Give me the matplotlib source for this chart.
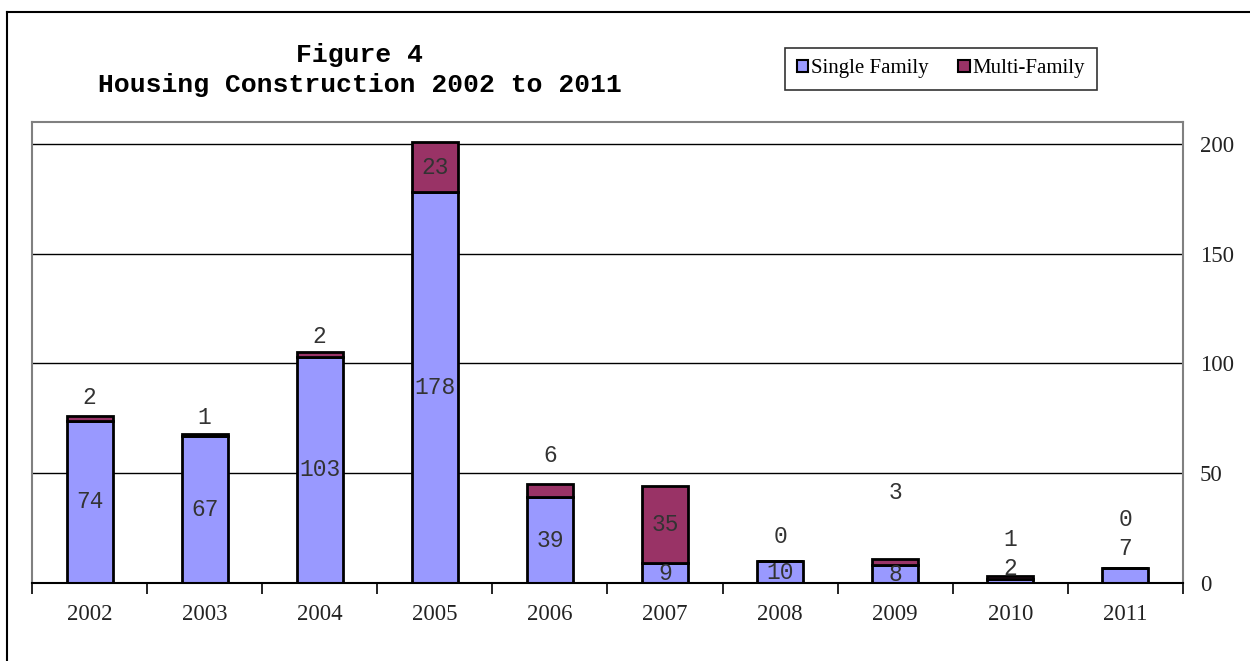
import matplotlib.pyplot as plt
import numpy as np
from matplotlib.patches import Patch
from matplotlib.lines import Line2D

# Housing construction counts
years = ['2002', '2003', '2004', '2005', '2006', '2007', '2008', '2009', '2010', '2011']
single = [74, 67, 103, 178, 39, 9, 10, 8, 2, 7]
multi = [2, 1, 2, 23, 6, 35, 0, 3, 1, 0]

# where the labels sit (data units); None = centre of the segment
single_lab_y = [None, None, None, None, None, None, None, None, 6.8, 15.5]
multi_lab_gap = [8.7, 7.2, 7.5, None, 12.9, None, 11, 30, 17, 21.7]

c_single = '#9999FF'
c_multi = '#993366'
mono = 'Liberation Mono'
serif = 'Liberation Serif'

fig = plt.figure(figsize=(12.5, 6.61), dpi=100)
W, H = 1250, 661

# outer chart border (only left and top edges show)
fig.add_artist(Line2D([7 / W, 7 / W], [0, 1 - 12 / H], color='black', lw=1.5, transform=fig.transFigure))
fig.add_artist(Line2D([7 / W, 1], [1 - 12 / H, 1 - 12 / H], color='black', lw=1.5, transform=fig.transFigure))

ax = fig.add_axes([32 / W, 1 - 583 / H, (1183 - 32) / W, (583 - 122) / H])

x = np.arange(len(years))
ax.bar(x, single, width=0.4, color=c_single, edgecolor='black', linewidth=2, zorder=3)
ax.bar(x, multi, width=0.4, bottom=single, color=c_multi, edgecolor='black', linewidth=2, zorder=3)

for i in range(len(years)):
    s, m = single[i], multi[i]
    ys = s / 2 if single_lab_y[i] is None else single_lab_y[i]
    ax.text(x[i], ys, str(s), ha='center', va='center', family=mono, fontsize=16.5, color='#333333', zorder=5)
    ym = s + m / 2 if multi_lab_gap[i] is None else s + m + multi_lab_gap[i]
    ax.text(x[i], ym, str(m), ha='center', va='center', family=mono, fontsize=16.5, color='#333333', zorder=5)

ax.set_xlim(-0.5, len(years) - 0.5)
ax.set_ylim(0, 210)
ax.yaxis.tick_right()
ax.set_yticks([0, 50, 100, 150, 200])
ax.tick_params(axis='y', length=0, pad=12, labelsize=16.5)
ax.grid(axis='y', color='black', linewidth=1, zorder=0)
ax.set_xticks(x)
ax.set_xticklabels(years)
ax.set_xticks(np.arange(-0.5, len(years)), minor=True)
ax.tick_params(axis='x', which='major', length=0, pad=15, labelsize=16.5)
ax.tick_params(axis='x', which='minor', length=8, width=1.2, direction='out', color='black')
for lab in ax.get_xticklabels() + ax.get_yticklabels():
    lab.set_family(serif)
    lab.set_color('#222222')

for side in ['top', 'left', 'right']:
    ax.spines[side].set_color('#808080')
    ax.spines[side].set_linewidth(1.5)
ax.spines['bottom'].set_color('black')
ax.spines['bottom'].set_linewidth(1.5)
ax.spines['bottom'].set_zorder(4)

fig.text(360 / W, 1 - 55 / H, 'Figure 4', ha='center', va='center', family=mono, fontweight='bold', fontsize=19)
fig.text(360 / W, 1 - 85 / H, 'Housing Construction 2002 to 2011', ha='center', va='center',
         family=mono, fontweight='bold', fontsize=19)

handles = [Patch(facecolor=c_single, edgecolor='black', linewidth=1.5, label='Single Family'),
           Patch(facecolor=c_multi, edgecolor='black', linewidth=1.5, label='Multi-Family')]
leg = fig.legend(handles=handles, loc='center', bbox_to_anchor=(941 / W, 1 - 69 / H), ncol=2,
                 prop={'family': serif, 'size': 15}, frameon=True, fancybox=False,
                 handlelength=0.55, handleheight=0.55, handletextpad=0.15, columnspacing=1.4,
                 borderpad=0.55, borderaxespad=0)
leg.get_frame().set_edgecolor('black')
leg.get_frame().set_linewidth(1.2)

fig.savefig('out.png', dpi=100)
